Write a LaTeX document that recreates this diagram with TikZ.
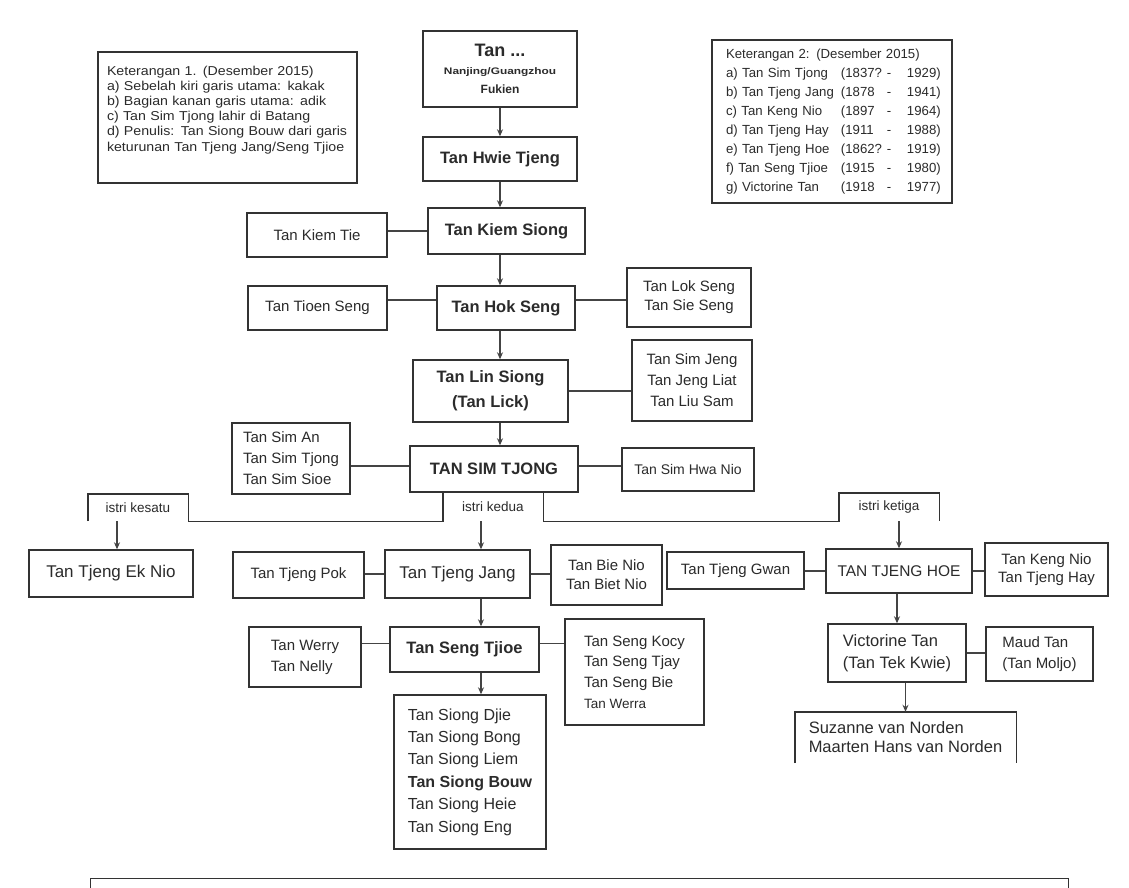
\documentclass[tikz,border=0pt]{standalone}
\usepackage{fontspec}
\setmainfont{Liberation Sans}
\newfontfamily\legfont{Liberation Sans}[FakeStretch=1.1]
\usetikzlibrary{arrows.meta}
\definecolor{txt}{HTML}{2B2B2B}
\definecolor{boxc}{HTML}{333333}
\definecolor{linec}{HTML}{444444}
\newcommand{\fsz}[2]{\fontsize{#1}{#2}\selectfont}
\newcommand{\lrow}[3]{\makebox[115pt][l]{#1}\makebox[46pt][l]{#2}\makebox[20pt][l]{-}#3}
\begin{document}
\begin{tikzpicture}[x=1pt,y=-1pt,
 box/.style={draw=boxc,line width=1.4pt,inner sep=0pt,align=center,text=txt,font=\fsz{15}{19}},
 mainbox/.style={box,font=\bfseries\fsz{16.5}{24}},
 lbox/.style={box,align=left},
 wife/.style={inner sep=0pt,text=txt,font=\fsz{13.5}{16}},
 conn/.style={draw=linec,line width=1.3pt},
 arr/.style={conn,-{Stealth[length=7pt,width=6pt]}}]
\useasboundingbox (0,0) rectangle (1129,888);
\clip (0,0) rectangle (1129,888);
\fill[white] (0,0) rectangle (1129,888);

% legends
\node[box,minimum width=259,minimum height=131,text width=241,align=left,font=\legfont\fsz{12.9}{15.2}] (leg1) at (227.5,117.5)
 {Keterangan 1. (Desember 2015)\\
  a) Sebelah kiri garis utama: kakak\\
  b) Bagian kanan garis utama: adik\\
  c) Tan Sim Tjong lahir di Batang\\
  d) Penulis: Tan Siong Bouw dari garis\\
  keturunan Tan Tjeng Jang/Seng Tjioe\rule[-18pt]{0pt}{1pt}};
\node[box,minimum width=240,minimum height=163,text width=212,align=left,font=\fsz{13.2}{18.9}] (leg2) at (832,121.5)
 {Keterangan 2: (Desember 2015)\\
  \lrow{a) Tan Sim Tjong}{(1837?}{1929)}\\
  \lrow{b) Tan Tjeng Jang}{(1878}{1941)}\\
  \lrow{c) Tan Keng Nio}{(1897}{1964)}\\
  \lrow{d) Tan Tjeng Hay}{(1911}{1988)}\\
  \lrow{e) Tan Tjeng Hoe}{(1862?}{1919)}\\
  \lrow{f) Tan Seng Tjioe}{(1915}{1980)}\\
  \lrow{g) Victorine Tan}{(1918}{1977)}};

% main column
\coordinate (col) at (500,0);
\coordinate (jx) at (481,0);
\node[box,minimum width=154,minimum height=76] (anc) at (500,69)
 {{\bfseries\fsz{18}{20}Tan ...}\\[-1pt]{\bfseries\fsz{9.5}{13}\scalebox{1.25}[1]{Nanjing/Guangzhou}}\\{\bfseries\fsz{12}{17}Fukien}};
\node[mainbox,minimum width=154,minimum height=44] (hwie) at (500,159) {Tan Hwie Tjeng};
\node[mainbox,minimum width=157,minimum height=46] (kiem) at (506.5,231) {Tan Kiem Siong};
\node[box,minimum width=140,minimum height=44] (kiemtie) at (317,235) {Tan Kiem Tie};
\node[mainbox,minimum width=138,minimum height=44] (hok) at (506,308) {Tan Hok Seng};
\node[box,minimum width=139,minimum height=44] (tioen) at (317.5,308) {Tan Tioen Seng};
\node[box,minimum width=124,minimum height=59,font=\fsz{15}{19}] (lok) at (689,297.5) {Tan Lok Seng\\Tan Sie Seng};
\node[mainbox,minimum width=155,minimum height=62,font=\bfseries\fsz{16.5}{25}] (lin) at (490.5,391) {Tan Lin Siong\\(Tan Lick)};
\node[box,minimum width=120,minimum height=81,font=\fsz{15}{21}] (simjeng) at (692,380.5) {Tan Sim Jeng\\Tan Jeng Liat\\Tan Liu Sam};
\node[mainbox,minimum width=168,minimum height=46] (tstj) at (494,469) {TAN SIM TJONG};
\node[lbox,minimum width=118,minimum height=71,font=\fsz{15}{21}] (siman) at (291,458.5) {Tan Sim An\\Tan Sim Tjong\\Tan Sim Sioe};
\node[box,minimum width=132,minimum height=43,font=\fsz{14}{18}] (hwanio) at (688,469.5) {Tan Sim Hwa Nio};

% wives
\node[wife,minimum width=100,minimum height=27] (kesatu) at (138,507.5) {istri kesatu};
\node[wife,minimum width=100,minimum height=29] (kedua) at (493,506.5) {istri kedua};
\node[wife,minimum width=100,minimum height=28] (ketiga) at (889,507) {istri ketiga};

% children row
\node[box,minimum width=164,minimum height=47,font=\fsz{17}{20}] (eknio) at (111,573.5) {Tan Tjeng Ek Nio};
\node[box,minimum width=131,minimum height=46] (pok) at (298.5,575) {Tan Tjeng Pok};
\node[box,minimum width=145,minimum height=48,font=\fsz{17}{20}] (jang) at (457.5,574) {Tan Tjeng Jang};
\node[box,minimum width=111,minimum height=60,font=\fsz{15}{19}] (bie) at (606.5,575) {Tan Bie Nio\\Tan Biet Nio};
\node[box,minimum width=137,minimum height=37] (gwan) at (735.5,570.5) {Tan Tjeng Gwan};
\node[box,minimum width=146,minimum height=44,font=\fsz{15.5}{19}] (hoe) at (899,571) {TAN TJENG HOE};
\node[box,minimum width=123,minimum height=53,font=\fsz{15}{18}] (kengnio) at (1046.5,569.5) {Tan Keng Nio\\Tan Tjeng Hay};

% next generation
\node[lbox,minimum width=112,minimum height=60,font=\fsz{15}{21}] (werry) at (305,657) {Tan Werry\\Tan Nelly};
\node[mainbox,minimum width=149,minimum height=45] (tjioe) at (464.5,649.5) {Tan Seng Tjioe};
\node[lbox,minimum width=139,minimum height=106,font=\fsz{15}{20.7}] (kocy) at (634.5,672) {Tan Seng Kocy\\Tan Seng Tjay\\Tan Seng Bie\\{\fsz{13.5}{20.7}Tan Werra}};
\node[lbox,minimum width=152,minimum height=154,font=\fsz{16}{22.4}] (siong) at (470,772)
 {Tan Siong Djie\\Tan Siong Bong\\Tan Siong Liem\\\textbf{Tan Siong Bouw}\\Tan Siong Heie\\Tan Siong Eng};
\node[lbox,minimum width=138,minimum height=58,font=\fsz{16.5}{22}] (vict) at (897,653) {Victorine Tan\\(Tan Tek Kwie)};
\node[lbox,minimum width=107,minimum height=54,font=\fsz{15}{21}] (maud) at (1039.5,654) {Maud Tan\\(Tan Moljo)};
\node[inner sep=0pt,align=left,text=txt,minimum width=221,minimum height=51,font=\fsz{16.5}{19}] (suz) at (905.5,737.5)
 {Suzanne van Norden\\Maarten Hans van Norden};
\draw[boxc,line width=1.4pt] (suz.south west) -- (suz.north west) -- (suz.north east) -- (suz.south east);

% bottom notes box
\node[box,minimum width=978,minimum height=60,anchor=north west] (notes) at (90,878) {};

% connectors main column
\draw[arr] (anc.south -| col) -- (hwie.north -| col);
\draw[arr] (hwie.south -| col) -- (kiem.north -| col);
\draw[arr] (kiem.south -| col) -- (hok.north -| col);
\draw[arr] (hok.south -| col) -- (lin.north -| col);
\draw[arr] (lin.south -| col) -- (tstj.north -| col);

% side connectors
\draw[conn] (kiem.west) -- (kiem.west -| kiemtie.east);
\draw[conn] ([yshift=8pt]hok.west) -- ([yshift=8pt]hok.west -| tioen.east);
\draw[conn] ([yshift=8pt]hok.east) -- ([yshift=8pt]hok.east -| lok.west);
\draw[conn] (lin.east) -- (lin.east -| simjeng.west);
\draw[conn] ([yshift=3pt]tstj.west) -- ([yshift=3pt]tstj.west -| siman.east);
\draw[conn] ([yshift=3pt]tstj.east) -- ([yshift=3pt]tstj.east -| hwanio.west);

% wives bracket
\draw[boxc,line width=1.4pt] (kesatu.south west) -- (kesatu.north west) -- (kesatu.north east) -- (kesatu.south east) -- (kedua.south west) -- (kedua.north west);
\draw[boxc,line width=1.4pt] (kedua.north east) -- (kedua.south east) -- (ketiga.south west) -- (ketiga.north west) -- (ketiga.north east) -- (ketiga.south east);

\draw[arr] ([xshift=6pt]eknio.north |- kesatu.south) -- ([xshift=6pt]eknio.north);
\draw[arr] (kedua.south -| jx) -- (jang.north -| jx);
\draw[arr] (ketiga.south -| hoe.north) -- (hoe.north);

\draw[conn] (jang.west) -- (jang.west -| pok.east);
\draw[conn] (jang.east) -- (jang.east -| bie.west);
\draw[conn] (hoe.west) -- (hoe.west -| gwan.east);
\draw[conn] (hoe.east) -- (hoe.east -| kengnio.west);

\draw[arr] (jang.south -| jx) -- (tjioe.north -| jx);
\draw[conn] ([yshift=6pt]tjioe.west) -- ([yshift=6pt]tjioe.west -| werry.east);
\draw[conn] ([yshift=6pt]tjioe.east) -- ([yshift=6pt]tjioe.east -| kocy.west);
\draw[arr] (tjioe.south -| jx) -- (siong.north -| jx);

\draw[arr] (hoe.south -| vict.north) -- (vict.north);
\draw[conn] (vict.east) -- (vict.east -| maud.west);
\draw[arr] (vict.south -| suz.north) -- (suz.north);
\end{tikzpicture}
\end{document}
